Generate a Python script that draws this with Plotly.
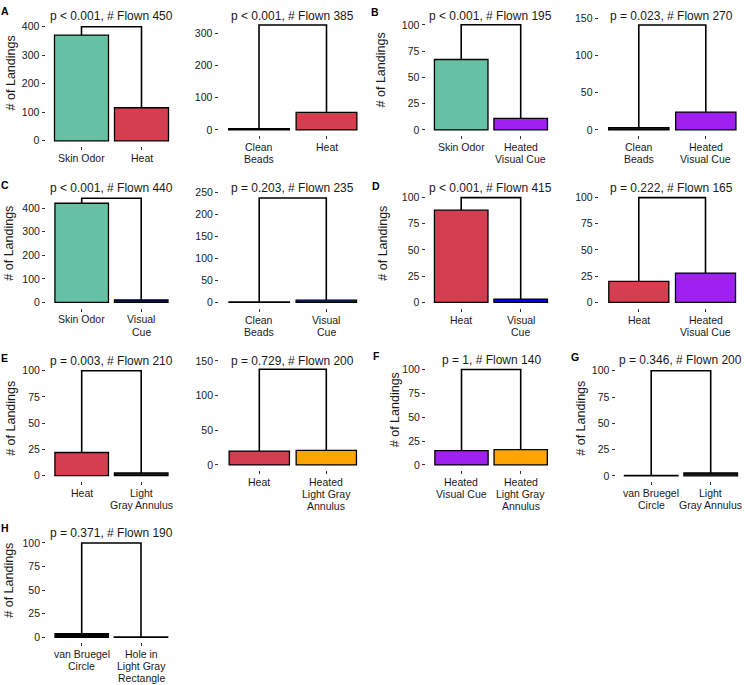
import plotly.graph_objects as go

W, H = 745, 685

# ---------------- data ----------------
categories = [
    ["Skin Odor", "Heat"],
    ["Clean<br>Beads", "Heat"],
    ["Skin Odor", "Heated<br>Visual Cue"],
    ["Clean<br>Beads", "Heated<br>Visual Cue"],
    ["Skin Odor", "Visual<br>Cue"],
    ["Clean<br>Beads", "Visual<br>Cue"],
    ["Heat", "Visual<br>Cue"],
    ["Heat", "Heated<br>Visual Cue"],
    ["Heat", "Light<br>Gray Annulus"],
    ["Heat", "Heated<br>Light Gray<br>Annulus"],
    ["Heated<br>Visual Cue", "Heated<br>Light Gray<br>Annulus"],
    ["van Bruegel<br>Circle", "Light<br>Gray Annulus"],
    ["van Bruegel<br>Circle", "Hole in<br>Light Gray<br>Rectangle"],
]
landings = [
    [371, 116], [4, 54], [67, 11], [3, 24],
    [421, 10], [1, 5], [88, 3], [20, 28],
    [22, 2.5], [20, 21], [15, 16], [0.5, 2.7], [4, 0.5],
]
p_values = ["< 0.001", "< 0.001", "< 0.001", "= 0.023",
            "< 0.001", "= 0.203", "< 0.001", "= 0.222",
            "= 0.003", "= 0.729", "= 1", "= 0.346", "= 0.371"]
flown = [450, 385, 195, 270, 440, 235, 415, 165, 210, 200, 140, 200, 190]
bracket_heights = [400, 325, 100, 141, 442, 238, 100, 100, 100, 138, 100, 100, 100]
y_tick_steps = [100, 100, 25, 50, 100, 50, 25, 25, 25, 50, 25, 25, 25]
panel_letters = {0: "A", 2: "B", 4: "C", 6: "D", 8: "E", 10: "F", 11: "G", 12: "H"}
y_title = "# of Landings"

category_colors = {
    "Skin Odor": "#66C2A5",
    "Heat": "#D53E4F",
    "Heated Visual Cue": "#A020F0",
    "Heated Light Gray Annulus": "#FFA500",
    "Visual Cue": "#0000FF",
    "Clean Beads": "#1a1a1a",
    "Light Gray Annulus": "#1a1a1a",
    "van Bruegel Circle": "#000000",
    "Hole in Light Gray Rectangle": "#1a1a1a",
}

# ---------------- layout (pixels) ----------------
# c1, c2: pixel x of categories 1 and 2; y0: pixel y of value 0; s: px per unit; lo/hi: y range
panel_geom = [
    (81.5, 141.5, 137, 0.2875, -20, 420),
    (259, 326.5, 126, 0.3257, -16.25, 341),
    (461.2, 520.7, 126, 1.06, -5, 105),
    (638.8, 705.8, 126, 0.751, -7.5, 152),
    (81.7, 141.2, 300, 0.2375, -22, 464),
    (259.2, 326.3, 300, 0.4427, -12, 252),
    (461.2, 520.7, 300, 1.057, -5, 105),
    (638.8, 705.5, 300, 1.057, -5, 105),
    (81.7, 141.2, 474.7, 1.057, -5, 105),
    (259.3, 326.3, 464, 0.7, -7, 152),
    (461.5, 520.7, 464, 0.963, -5, 105),
    (651.2, 710.7, 475, 1.06, -5, 105),
    (81.7, 141, 638, 0.953, -5, 105),
]
title_y = [11, 11, 11, 11, 184.5, 184.5, 184.5, 184.5, 359, 359, 358.3, 358.3, 532.7]
ytitle_pos = {0: (11, 69), 2: (381, 66), 4: (9, 240.8), 6: (383, 240.8),
              8: (11, 417.5), 10: (394.5, 408.3), 11: (580.7, 416.7), 12: (9, 580.8)}
letter_pos = {0: (5, 6.3), 2: (375, 7), 4: (4.5, 181.7), 6: (376, 182.3),
              8: (4.5, 356.3), 10: (376, 354.5), 11: (574.7, 355), 12: (5, 528)}
XLAB_FIRST = 12.0   # px below panel bottom to first label line centre
XLAB_STEP = 12.2    # px between label lines

FONT = "Liberation Sans, Arial, Helvetica, sans-serif"
TXT = "#1a1a1a"


def px2x(px):
    return px / W


def px2y(py):
    return 1 - py / H


fig = go.Figure()
annotations = []
layout_axes = {}

for i, cats in enumerate(categories):
    c1, c2, y0, s, lo, hi = panel_geom[i]
    u = c2 - c1
    left = max(0.0, c1 - 0.6 * u)
    right = min(W, c2 + 0.6 * u)
    xr = [1 + (left - c1) / u, 1 + (right - c1) / u]
    top = y0 - hi * s
    bottom = y0 - lo * s

    n = "" if i == 0 else str(i + 1)
    xa, ya = "x" + n, "y" + n

    vals = landings[i]
    plain = [c.replace("<br>", " ") for c in cats]
    cols = [category_colors[p] for p in plain]
    xs = list(range(1, len(cats) + 1))

    fig.add_trace(go.Bar(
        x=xs, y=vals, width=0.9,
        marker=dict(color=cols, line=dict(color="black", width=1.3)),
        xaxis=xa, yaxis=ya, showlegend=False, hoverinfo="skip",
    ))
    bh = bracket_heights[i]
    fig.add_trace(go.Scatter(
        x=[xs[0], xs[0], xs[1], xs[1]], y=[vals[0], bh, bh, vals[1]],
        mode="lines", line=dict(color="black", width=1.6),
        xaxis=xa, yaxis=ya, showlegend=False, hoverinfo="skip",
    ))

    step = y_tick_steps[i]
    tv = []
    v = 0
    while v <= hi:
        tv.append(v)
        v += step

    layout_axes["xaxis" + n] = dict(
        domain=[px2x(left), px2x(right)], range=xr, anchor=ya,
        tickvals=xs, showticklabels=False, ticks="outside", ticklen=3, tickwidth=1,
        tickcolor="#333333", showgrid=False, zeroline=False, showline=False,
        fixedrange=True,
    )
    layout_axes["yaxis" + n] = dict(
        domain=[px2y(bottom), px2y(top)], range=[lo, hi], anchor=xa,
        tickvals=tv, ticks="outside", ticklen=3, tickwidth=1,
        tickcolor="#333333", showgrid=False, zeroline=False, showline=False,
        tickfont=dict(size=10.5, color=TXT, family=FONT), fixedrange=True,
    )

    # category labels (one text per line, placed on the category positions)
    for j, cat in enumerate(cats):
        for k, line in enumerate(cat.split("<br>")):
            annotations.append(dict(
                text=line, x=xs[j], xref=xa,
                y=px2y(bottom + XLAB_FIRST + XLAB_STEP * k), yref="paper",
                xanchor="center", yanchor="middle", showarrow=False, borderpad=0,
                font=dict(size=10.5, color=TXT, family=FONT),
            ))

    annotations.append(dict(
        text=f"p {p_values[i]}, # Flown {flown[i]}",
        x=px2x((left + right) / 2), y=px2y(title_y[i]), xref="paper", yref="paper",
        xanchor="center", yanchor="middle", showarrow=False,
        font=dict(size=12, color=TXT, family=FONT),
    ))
    if i in ytitle_pos:
        tx, ty = ytitle_pos[i]
        annotations.append(dict(
            text=y_title, x=px2x(tx), y=px2y(ty), xref="paper", yref="paper",
            xanchor="center", yanchor="middle", textangle=-90, showarrow=False,
            font=dict(size=12.5, color=TXT, family=FONT),
        ))
    if i in panel_letters:
        lx, ly = letter_pos[i]
        annotations.append(dict(
            text="<b>" + panel_letters[i] + "</b>", x=px2x(lx), y=px2y(ly),
            xref="paper", yref="paper", xanchor="center", yanchor="middle",
            showarrow=False, font=dict(size=10.5, color="black", family=FONT),
        ))

fig.update_layout(
    width=W, height=H, margin=dict(l=0, r=0, t=0, b=0),
    paper_bgcolor="white", plot_bgcolor="white",
    annotations=annotations, bargap=0, showlegend=False,
    **layout_axes,
)

fig.write_html(
    "out.html",
    config={"displayModeBar": False, "staticPlot": True},
    post_script="document.documentElement.style.margin='0';"
                "document.body.style.margin='0';"
                "document.body.style.overflow='hidden';",
)
